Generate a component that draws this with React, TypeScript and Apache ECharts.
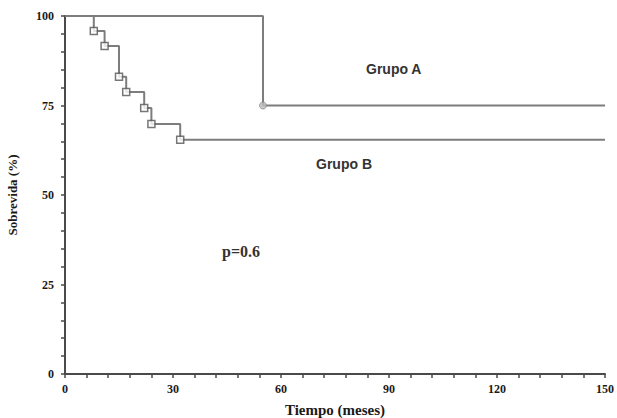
import React, { useEffect, useRef } from "react";
import * as echarts from "echarts";

// Kaplan-Meier curves (time in months, survival in %)
const groupATimes = [0, 55, 150];
const groupAValues = [100, 75, 75];
const groupBTimes = [0, 8, 11, 15, 17, 22, 24, 32, 150];
const groupBValues = [100, 95.8, 91.6, 83, 78.8, 74.3, 69.8, 65.4, 65.4];
const xTicks = [0, 30, 60, 90, 120, 150];
const yTicks = [0, 25, 50, 75, 100];

const lineColor = "#7d7d7d";
const axisColor = "#4a4a4a";

export default function App() {
  const ref = useRef<HTMLDivElement>(null);
  useEffect(() => {
    if (!ref.current) return;
    const chart = echarts.init(ref.current, undefined, { renderer: "svg" });
    const aLine = groupATimes.map((t, i) => [t, groupAValues[i]]);
    const bLine = groupBTimes.map((t, i) => [t, groupBValues[i]]);
    const aMarks = aLine.slice(1, -1);
    const bMarks = bLine.slice(1, -1);
    const tickFont = {
      fontFamily: "Liberation Serif",
      fontWeight: "bold" as const,
      fontSize: 12,
      color: "#1a1a1a",
    };
    chart.setOption({
      animation: false,
      grid: { left: 65, right: 12, top: 16, bottom: 44, containLabel: false, outerBoundsMode: "none" },
      xAxis: {
        type: "value",
        min: 0,
        max: 150,
        interval: 30,
        name: "Tiempo (meses)",
        nameLocation: "middle",
        nameGap: 28,
        nameTextStyle: {
          fontFamily: "Liberation Serif",
          fontWeight: "bold",
          fontSize: 15,
          color: "#1a1a1a",
        },
        axisLine: { lineStyle: { color: axisColor, width: 2 } },
        axisTick: { show: true, length: 4, lineStyle: { color: axisColor, width: 1.5 } },
        minorTick: { show: true, splitNumber: 5, length: 4, lineStyle: { color: axisColor, width: 1.5 } },
        splitLine: { show: false },
        axisLabel: {
          ...tickFont,
          margin: 9,
          formatter: (v: number) => (xTicks.includes(v) ? String(v) : ""),
        },
      },
      yAxis: {
        type: "value",
        min: 0,
        max: 100,
        interval: 25,
        name: "Sobrevida (%)",
        nameLocation: "middle",
        nameGap: 46,
        nameRotate: 90,
        nameTextStyle: {
          fontFamily: "Liberation Serif",
          fontWeight: "bold",
          fontSize: 13,
          color: "#1a1a1a",
        },
        axisLine: { show: true, lineStyle: { color: axisColor, width: 2 } },
        axisTick: { show: true, length: 4, lineStyle: { color: axisColor, width: 1.5 } },
        minorTick: { show: true, splitNumber: 5, length: 4, lineStyle: { color: axisColor, width: 1.5 } },
        splitLine: { show: false },
        axisLabel: {
          ...tickFont,
          margin: 11,
          formatter: (v: number) => (yTicks.includes(v) ? String(v) : ""),
        },
      },
      series: [
        {
          type: "line",
          name: "Grupo A",
          step: "end",
          data: aLine,
          showSymbol: false,
          lineStyle: { color: lineColor, width: 2 },
          z: 2,
        },
        {
          type: "line",
          name: "Grupo B",
          step: "end",
          data: bLine,
          showSymbol: false,
          lineStyle: { color: lineColor, width: 2 },
          z: 2,
        },
        {
          type: "scatter",
          data: aMarks,
          symbol: "circle",
          symbolSize: 7,
          itemStyle: { color: "#bdbdbd", borderColor: "#8a8a8a", borderWidth: 1 },
          z: 3,
        },
        {
          type: "scatter",
          data: bMarks,
          symbol: "rect",
          symbolSize: 7,
          itemStyle: { color: "#ffffff", borderColor: "#555", borderWidth: 1.5 },
          z: 3,
        },
      ],
      graphic: [
        {
          type: "text",
          x: 366,
          y: 62,
          style: {
            text: "Grupo A",
            font: "bold 14px 'Liberation Sans'",
            fill: "#333",
          },
        },
        {
          type: "text",
          x: 316,
          y: 157,
          style: {
            text: "Grupo B",
            font: "bold 14px 'Liberation Sans'",
            fill: "#333",
          },
        },
        {
          type: "text",
          x: 222,
          y: 243,
          style: {
            text: "p=0.6",
            font: "bold 16px 'Liberation Serif'",
            fill: "#333",
          },
        },
      ],
    });
    return () => chart.dispose();
  }, []);
  return <div ref={ref} style={{ width: 617, height: 418, position: "absolute", left: 0, top: 0 }} />;
}
